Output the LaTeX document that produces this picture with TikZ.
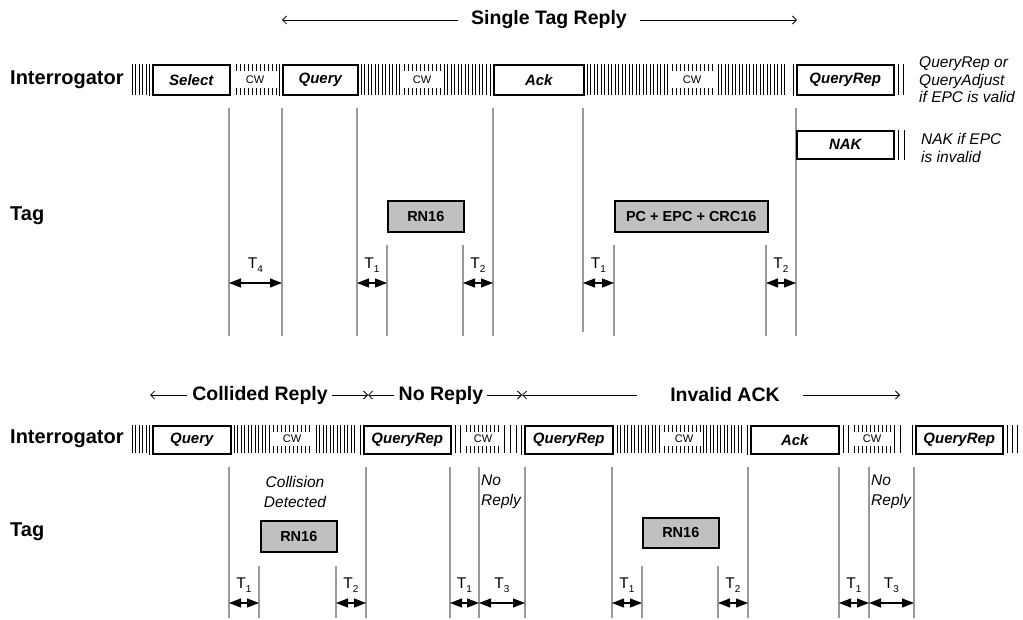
\documentclass[tikz,border=0pt]{standalone}
\usepackage{fontspec}
\setmainfont{Liberation Sans}
\usetikzlibrary{arrows.meta}
\definecolor{tagfill}{HTML}{C0C0C0}
\definecolor{vgray}{HTML}{9A9A9A}
\newcommand\hatchrow[4]{\foreach \i in {0,...,#2} {\draw[hl] ({#1+3.5*\i},#3) -- ({#1+3.5*\i},#4);}}
\newcommand\cwticks[4]{\foreach \i in {0,...,#2} {\draw[hl] ({#1+4*\i},#3) -- ++(0,7); \draw[hl] ({#1+4*\i},#4) -- ++(0,-7);}}
\newcommand\Tlab[1]{T\raisebox{-3.5pt}{\fontsize{10}{10}\selectfont #1}}
\begin{document}
\begin{tikzpicture}[x=1pt,y=-1pt,
  hl/.style={line width=0.75pt},
  vline/.style={draw=vgray,line width=1.6pt},
  msg/.style={draw,line width=1.6pt,anchor=north west,inner sep=0pt,font=\fontsize{15}{15}\selectfont\bfseries\itshape},
  tagbox/.style={draw,fill=tagfill,line width=1.6pt,anchor=north west,inner sep=0pt,font=\fontsize{14.5}{14.5}\selectfont\bfseries},
  rowlab/.style={anchor=west,inner sep=0pt,font=\fontsize{20}{20}\selectfont\bfseries},
  ttl/.style={inner sep=0pt,font=\fontsize{19.5}{19.5}\selectfont\bfseries},
  cwlab/.style={inner sep=0pt,font=\fontsize{11}{11}\selectfont},
  note/.style={anchor=west,align=left,inner sep=0pt,font=\fontsize{15.5}{17.5}\selectfont\itshape},
  tl/.style={inner sep=0pt,font=\fontsize{15.5}{15.5}\selectfont},
  tarrow/.style={line width=1.1pt,{Triangle[length=12pt,width=9pt]}-{Triangle[length=12pt,width=9pt]}},
  tline/.style={line width=0.8pt,-{Straight Barb[length=4pt,width=8pt]}},
]
\useasboundingbox (0,0) rectangle (1023,620);
\fill[white] (0,0) rectangle (1023,620);

% ================= TOP =================
\node[ttl] (str) at (549,20) {Single Tag Reply};
\coordinate (sl) at (282,20);
\coordinate (sr) at (797,20);
\draw[tline] ([xshift=-13pt]str.west) -- (sl);
\draw[tline] ([xshift=13pt]str.east) -- (sr);

\node[rowlab] (int1) at (10,80) {Interrogator};
\node[rowlab] (tag1) at (10,216) {Tag};

% hatch and CW
\hatchrow{132}{4}{64}{95}
\cwticks{236}{10}{64}{95}
\node[cwlab] (cw1) at (255,80) {CW};
\hatchrow{361}{11}{64}{95}
\cwticks{404}{9}{64}{95}
\node[cwlab] (cw2) at (422,80) {CW};
\hatchrow{444}{12}{64}{95}
\hatchrow{587}{23}{64}{95}
\cwticks{672}{10}{64}{95}
\node[cwlab] (cw3) at (692,80) {CW};
\hatchrow{718}{19}{64}{95}
\draw[hl] (898,64) -- (898,95);
\draw[hl] (903,64) -- (903,95);

% vertical lines top
\draw[vline] (229,108) -- (229,336);
\draw[vline] (282,108) -- (282,336);
\draw[vline] (357,108) -- (357,336);
\draw[vline] (387,245) -- (387,336);
\draw[vline] (463,245) -- (463,336);
\draw[vline] (493,108) -- (493,336);
\draw[vline] (583,108) -- (583,332);
\draw[vline] (614,245) -- (614,336);
\draw[vline] (766,245) -- (766,336);
\draw[vline] (796,108) -- (796,336);

% messages top
\node[msg,minimum width=77pt,minimum height=30pt] (sel) at (152,64) {Select};
\node[msg,minimum width=75pt,minimum height=30pt] (qry) at (282,64) {Query};
\node[msg,minimum width=90pt,minimum height=30pt] (ack) at (493,64) {Ack};
\node[msg,minimum width=97pt,minimum height=30pt] (qrep) at (796,64) {QueryRep};
\node[msg,fill=white,minimum width=97pt,minimum height=28pt] (nak) at (796,130) {NAK};
\foreach \b in {sel,qry,ack,qrep}{\draw[hl] ([xshift=-3pt]\b.north west) -- ([xshift=-3pt]\b.south west);}
\draw[hl] (898,130) -- (898,160);
\draw[hl] (904,130) -- (904,160);

\node[note] (n1) at (919,80) {QueryRep or\\QueryAdjust\\if EPC is valid};
\node[note] (n2) at (921,148) {NAK if EPC\\is invalid};

% tag replies top
\node[tagbox,minimum width=76pt,minimum height=31pt] (rn1) at (387,200) {RN16};
\node[tagbox,minimum width=153pt,minimum height=31pt] (pc) at (614,200) {PC + EPC + CRC16};

% timing arrows top
\draw[tarrow] (229,283) -- (282,283);
\node[tl] at (255.5,265) {\Tlab{4}};
\draw[tarrow] (357,283) -- (387,283);
\node[tl] at (372,265) {\Tlab{1}};
\draw[tarrow] (463,283) -- (493,283);
\node[tl] at (478,265) {\Tlab{2}};
\draw[tarrow] (583,283) -- (614,283);
\node[tl] at (598.5,265) {\Tlab{1}};
\draw[tarrow] (766,283) -- (796,283);
\node[tl] at (781,265) {\Tlab{2}};

% ================= BOTTOM =================
\node[ttl] (cr) at (260,395) {Collided Reply};
\node[ttl] (nr) at (441,395) {No Reply};
\node[ttl] (ia) at (725,395) {Invalid ACK};
\coordinate (b0) at (150,395);
\coordinate (m1) at (368,395);
\coordinate (m2) at (522,395);
\coordinate (b3) at (900,395);
\draw[tline] ([xshift=-5pt]cr.west) -- (b0);
\draw[tline] ([xshift=4pt]cr.east) -- (m1);
\draw[tline] ([xshift=-5pt]nr.west) -- (m1);
\draw[tline] ([xshift=4pt]nr.east) -- (m2);
\draw[tline] (637,395) -- (m2);
\draw[tline] ([xshift=23pt]ia.east) -- (b3);

\node[rowlab] (int2) at (10,439) {Interrogator};
\node[rowlab] (tag2) at (10,532) {Tag};

\hatchrow{132}{4}{425}{453}
\hatchrow{234}{10}{425}{453}
\cwticks{273}{9}{425}{453}
\node[cwlab] (cw4) at (292,439) {CW};
\hatchrow{316}{11}{425}{453}
\draw[hl] (455,425) -- (455,453);
\draw[hl] (460,425) -- (460,453);
\cwticks{466}{8}{425}{453}
\node[cwlab] (cw5) at (483,439) {CW};
\draw[hl] (504,425) -- (504,453);
\draw[hl] (510,425) -- (510,453);
\draw[hl] (516,425) -- (516,453);
\hatchrow{617}{12}{425}{453}
\cwticks{664}{9}{425}{453}
\node[cwlab] (cw6) at (684,439) {CW};
\hatchrow{703}{11}{425}{453}
\draw[hl] (843,425) -- (843,453);
\draw[hl] (848,425) -- (848,453);
\cwticks{854}{9}{425}{453}
\node[cwlab] (cw7) at (872,439) {CW};
\draw[hl] (894,425) -- (894,453);
\draw[hl] (900,425) -- (900,453);
\draw[hl] (1007,425) -- (1007,453);
\draw[hl] (1012,425) -- (1012,453);
\draw[hl] (1017,425) -- (1017,453);

% vertical lines bottom
\foreach \x in {229,366,450,479,525,612,748,839,869,914}{\draw[vline] (\x,467) -- (\x,618);}
\foreach \x in {259,336,642,718}{\draw[vline] (\x,566) -- (\x,618);}

% messages bottom
\node[msg,minimum width=78pt,minimum height=28pt] (q2) at (152,425) {Query};
\node[msg,minimum width=87pt,minimum height=28pt] (qr2) at (363,425) {QueryRep};
\node[msg,minimum width=88pt,minimum height=28pt] (qr3) at (524,425) {QueryRep};
\node[msg,minimum width=88pt,minimum height=28pt] (ack2) at (750,425) {Ack};
\node[msg,minimum width=87pt,minimum height=28pt] (qr4) at (915,425) {QueryRep};
\foreach \b in {q2,qr2,qr3,ack2,qr4}{\draw[hl] ([xshift=-3pt]\b.north west) -- ([xshift=-3pt]\b.south west);}

\node[note,anchor=center,align=center,font=\fontsize{15.5}{20}\selectfont\itshape] (cd) at (295,492) {Collision\\Detected};
\node[note,font=\fontsize{15.5}{20}\selectfont\itshape] (nr1) at (481,492) {No\\Reply};
\node[note,font=\fontsize{15.5}{20}\selectfont\itshape] (nr2) at (871,492) {No\\Reply};

\node[tagbox,minimum width=76pt,minimum height=31pt] (rn2) at (260,520) {RN16};
\node[tagbox,minimum width=76pt,minimum height=30pt] (rn3) at (642,517) {RN16};

\draw[tarrow] (229,603) -- (259,603);
\node[tl] at (244,585) {\Tlab{1}};
\draw[tarrow] (336,603) -- (366,603);
\node[tl] at (351,585) {\Tlab{2}};
\draw[tarrow] (450,603) -- (479,603);
\node[tl] at (464.5,585) {\Tlab{1}};
\draw[tarrow] (479,603) -- (525,603);
\node[tl] at (502,585) {\Tlab{3}};
\draw[tarrow] (612,603) -- (642,603);
\node[tl] at (627,585) {\Tlab{1}};
\draw[tarrow] (718,603) -- (748,603);
\node[tl] at (733,585) {\Tlab{2}};
\draw[tarrow] (839,603) -- (869,603);
\node[tl] at (854,585) {\Tlab{1}};
\draw[tarrow] (869,603) -- (914,603);
\node[tl] at (891.5,585) {\Tlab{3}};
\end{tikzpicture}
\end{document}
